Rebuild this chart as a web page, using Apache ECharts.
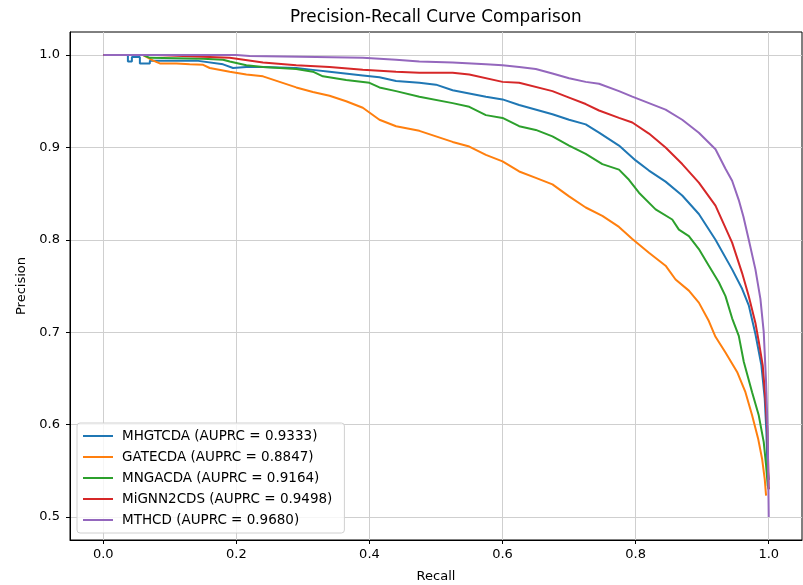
<!DOCTYPE html>
<html>
<head>
<meta charset="utf-8">
<script src="https://cdn.jsdelivr.net/npm/echarts@6/dist/echarts.min.js"></script>
<style>
  html, body { margin: 0; padding: 0; background: #fff; }
  #chart { width: 803px; height: 585px; }
</style>
</head>
<body>
<div id="chart"></div>
<script>
const xTicks = [0, 0.2, 0.4, 0.6, 0.8, 1.0];
const yTicks = [0.5, 0.6, 0.7, 0.8, 0.9, 1.0];

const names = [
  "MHGTCDA (AUPRC = 0.9333)",
  "GATECDA (AUPRC = 0.8847)",
  "MNGACDA (AUPRC = 0.9164)",
  "MiGNN2CDS (AUPRC = 0.9498)",
  "MTHCD (AUPRC = 0.9680)"
];
const colors = ["#1f77b4", "#ff7f0e", "#2ca02c", "#d62728", "#9467bd"];

// [recall, precision]
const mhgtcda = [
  [0, 1.0], [0.037, 1.0], [0.037, 0.993], [0.043, 0.993], [0.043, 0.998], [0.055, 0.998],
  [0.055, 0.991], [0.07, 0.991], [0.07, 0.994], [0.14, 0.994], [0.18, 0.99], [0.195, 0.986],
  [0.215, 0.987], [0.24, 0.987], [0.29, 0.986], [0.315, 0.984], [0.34, 0.982], [0.39, 0.978],
  [0.415, 0.976], [0.44, 0.972], [0.475, 0.970], [0.5, 0.968], [0.525, 0.962], [0.575, 0.955],
  [0.6, 0.952], [0.625, 0.946], [0.675, 0.936], [0.7, 0.930], [0.725, 0.925], [0.745, 0.916],
  [0.775, 0.902], [0.8, 0.886], [0.82, 0.875], [0.845, 0.863], [0.87, 0.848], [0.895, 0.828],
  [0.92, 0.80], [0.945, 0.768], [0.96, 0.747], [0.97, 0.729], [0.98, 0.698], [0.989, 0.664],
  [0.994, 0.628], [0.9965, 0.592], [0.998, 0.556], [1.0, 0.54]
];
const gatecda = [
  [0, 1.0], [0.06, 1.0], [0.075, 0.994], [0.085, 0.991], [0.11, 0.991], [0.13, 0.99],
  [0.15, 0.9895], [0.16, 0.986], [0.19, 0.982], [0.215, 0.979], [0.24, 0.977], [0.29, 0.965],
  [0.315, 0.96], [0.34, 0.956], [0.365, 0.95], [0.39, 0.943], [0.415, 0.93], [0.44, 0.923],
  [0.475, 0.918], [0.525, 0.906], [0.55, 0.901], [0.575, 0.892], [0.6, 0.885], [0.625, 0.874],
  [0.65, 0.867], [0.675, 0.86], [0.7, 0.847], [0.725, 0.835], [0.75, 0.826], [0.775, 0.814],
  [0.795, 0.801], [0.82, 0.786], [0.845, 0.772], [0.86, 0.757], [0.88, 0.745], [0.895, 0.732],
  [0.91, 0.712], [0.92, 0.695], [0.935, 0.678], [0.9525, 0.657], [0.965, 0.635], [0.975, 0.61],
  [0.984, 0.585], [0.99, 0.563], [0.994, 0.541], [0.996, 0.523]
];
const mngacda = [
  [0, 1.0], [0.06, 1.0], [0.07, 0.997], [0.15, 0.996], [0.18, 0.995], [0.19, 0.993],
  [0.215, 0.989], [0.24, 0.987], [0.29, 0.985], [0.315, 0.982], [0.33, 0.977], [0.365, 0.973],
  [0.4, 0.970], [0.415, 0.965], [0.44, 0.961], [0.475, 0.955], [0.525, 0.948], [0.55, 0.944],
  [0.575, 0.935], [0.6, 0.932], [0.625, 0.923], [0.65, 0.919], [0.675, 0.912], [0.7, 0.902],
  [0.725, 0.893], [0.75, 0.882], [0.775, 0.876], [0.79, 0.865], [0.805, 0.851], [0.83, 0.833],
  [0.855, 0.822], [0.865, 0.811], [0.88, 0.804], [0.895, 0.79], [0.91, 0.772], [0.925, 0.754],
  [0.935, 0.739], [0.945, 0.715], [0.955, 0.696], [0.9625, 0.668], [0.975, 0.635], [0.985, 0.61],
  [0.9925, 0.581], [0.996, 0.556], [0.9985, 0.534], [1.0, 0.53]
];
const mignn2cds = [
  [0, 1.0], [0.08, 1.0], [0.08, 0.998], [0.19, 0.997], [0.24, 0.992], [0.29, 0.989],
  [0.34, 0.987], [0.39, 0.984], [0.44, 0.982], [0.475, 0.981], [0.525, 0.981], [0.55, 0.979],
  [0.6, 0.971], [0.625, 0.970], [0.675, 0.961], [0.7, 0.954], [0.725, 0.947], [0.745, 0.940],
  [0.775, 0.932], [0.795, 0.927], [0.82, 0.915], [0.845, 0.900], [0.87, 0.882], [0.895, 0.862],
  [0.92, 0.837], [0.945, 0.797], [0.96, 0.764], [0.97, 0.739], [0.98, 0.71], [0.985, 0.69],
  [0.991, 0.664], [0.995, 0.628], [0.998, 0.592], [1.0, 0.53]
];
const mthcd = [
  [0, 1.0], [0.2, 1.0], [0.22, 0.999], [0.32, 0.998], [0.39, 0.997], [0.44, 0.995],
  [0.475, 0.993], [0.525, 0.992], [0.575, 0.990], [0.6, 0.989], [0.625, 0.987], [0.65, 0.985],
  [0.675, 0.980], [0.7, 0.975], [0.725, 0.971], [0.745, 0.969], [0.775, 0.961], [0.795, 0.955],
  [0.845, 0.941], [0.87, 0.93], [0.895, 0.916], [0.92, 0.898], [0.935, 0.877], [0.945, 0.864],
  [0.955, 0.843], [0.962, 0.825], [0.97, 0.80], [0.98, 0.768], [0.9875, 0.736], [0.9925, 0.70],
  [0.996, 0.646], [0.9985, 0.592], [1.0, 0.50]
];
const curves = [mhgtcda, gatecda, mngacda, mignn2cds, mthcd];

const chart = echarts.init(document.getElementById("chart"));
const font = "DejaVu Sans";

chart.setOption({
  animation: false,
  textStyle: { fontFamily: font },
  title: {
    text: "Precision-Recall Curve Comparison",
    left: 290,
    top: 9,
    padding: 0,
    textStyle: { fontSize: 16.8, fontWeight: "normal", color: "#000", fontFamily: font }
  },
  grid: {
    left: 70, right: 1, top: 32, bottom: 45,
    outerBoundsMode: "none",
    show: true, borderColor: "#000", borderWidth: 1, backgroundColor: "transparent"
  },
  legend: {
    orient: "vertical",
    left: 77,
    top: 423,
    padding: [5, 12, 5, 6],
    itemGap: 5,
    itemWidth: 30,
    itemHeight: 2,
    icon: "rect",
    borderColor: "#d0d0d0",
    borderWidth: 1,
    borderRadius: 3,
    backgroundColor: "rgba(255,255,255,0.8)",
    textStyle: { fontSize: 13.5, lineHeight: 16, color: "#000", fontFamily: font, padding: [0, 0, 0, 4] },
    data: names
  },
  xAxis: {
    type: "value",
    min: -0.05,
    max: 1.05,
    name: "Recall",
    nameLocation: "middle",
    nameGap: 30,
    nameTextStyle: { fontSize: 13, color: "#000" },
    axisLine: { onZero: false, lineStyle: { color: "#000", width: 1 } },
    axisTick: { show: true, length: 4, customValues: xTicks, lineStyle: { color: "#000" } },
    axisLabel: {
      customValues: xTicks, fontSize: 13, color: "#000", margin: 8,
      formatter: v => v.toFixed(1)
    },
    splitLine: { show: true, lineStyle: { color: "#cfcfcf", width: 1 } }
  },
  yAxis: {
    type: "value",
    min: 0.475,
    max: 1.025,
    name: "Precision",
    nameLocation: "middle",
    nameGap: 40,
    nameTextStyle: { fontSize: 13, color: "#000" },
    axisLine: { show: true, onZero: false, lineStyle: { color: "#000", width: 1 } },
    axisTick: { show: true, length: 4, customValues: yTicks, lineStyle: { color: "#000" } },
    axisLabel: {
      customValues: yTicks, fontSize: 13, color: "#000", margin: 10,
      formatter: v => v.toFixed(1)
    },
    splitLine: { show: true, lineStyle: { color: "#cfcfcf", width: 1 } }
  },
  series: curves.map((d, i) => ({
    name: names[i],
    type: "line",
    data: d,
    showSymbol: false,
    symbol: "none",
    color: colors[i],
    lineStyle: { width: 2, color: colors[i] },
    z: 2 + i
  }))
});
</script>
</body>
</html>
